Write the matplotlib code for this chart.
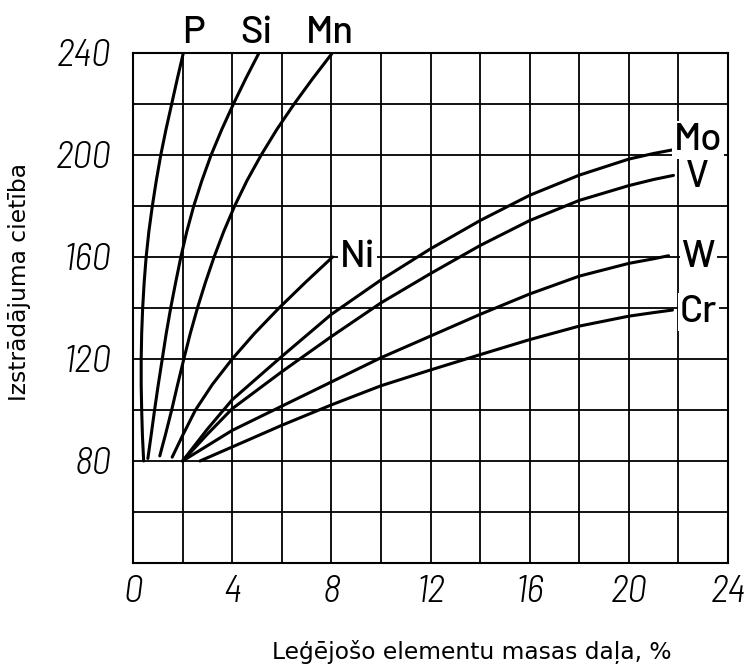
import matplotlib.pyplot as plt
import numpy as np

# cietība (HB) pret leģējošā elementa masas daļu, %
p_x = [0.43, 0.38, 0.35, 0.33, 0.33, 0.35, 0.39, 0.45, 0.53, 0.64, 0.78, 0.94, 1.12, 1.33, 1.56, 1.79, 2.03]
p_y = [80, 90, 100, 110, 120, 130, 140, 150, 160, 170, 180, 190, 200, 210, 220, 230, 240]

si_x = [0.60, 0.73, 0.87, 1.02, 1.18, 1.34, 1.52, 1.72, 1.93, 2.17, 2.45, 2.78, 3.15, 3.58, 4.05, 4.55, 5.08]
si_y = [81, 90, 100, 110, 120, 130, 140, 150, 160, 170, 180, 190, 200, 210, 220, 230, 240]

mn_x = [1.08, 1.30, 1.56, 1.80, 2.05, 2.31, 2.60, 2.92, 3.27, 3.66, 4.10, 4.60, 5.17, 5.80, 6.50, 7.25, 8.04]
mn_y = [82, 90, 100, 110, 120, 130, 140, 150, 160, 170, 180, 190, 200, 210, 220, 230, 240]

ni_x = [1.58, 2.00, 2.52, 3.20, 4.00, 4.90, 5.89, 6.95, 8.05]
ni_y = [81.5, 90, 100, 110, 120, 130, 140, 150, 160]

mo_x = [2, 3, 4, 6, 8, 10, 12, 14, 16, 18, 20, 21, 21.76]
mo_y = [80, 92.5, 104, 121, 137.5, 151, 163.2, 174.3, 184.2, 192.1, 198.4, 200.6, 202]

v_x = [2, 3, 4, 6, 8, 10, 12, 14, 16, 18, 20, 21, 21.8]
v_y = [80, 90.5, 100.5, 115, 128.8, 142, 153.5, 164.5, 174.3, 182.2, 188.0, 190.4, 192]

w_x = [2, 4, 6, 8, 10, 12, 14, 16, 18, 20, 21, 21.6]
w_y = [80, 92, 101.5, 111, 120.5, 129, 137.5, 145.5, 152.5, 157.5, 159.3, 160.5]

cr_x = [2.7, 4, 6, 8, 10, 12, 14, 16, 18, 20, 21, 21.76]
cr_y = [80, 85.5, 94, 102, 109.5, 115.7, 121.7, 127.6, 132.9, 136.8, 138.2, 139.2]

x_ticks = [0, 4, 8, 12, 16, 20, 24]
y_ticks = [80, 120, 160, 200, 240]

tick_fam = ['Barlow Semi Condensed', 'Barlow Condensed', 'DejaVu Sans']
lab_fam = ['Barlow', 'Barlow Semi Condensed', 'DejaVu Sans']

fig = plt.figure(figsize=(7.5, 6.64), dpi=100)
ax = fig.add_axes([133 / 750, 1 - 563 / 664, 595 / 750, 510 / 664])

for xs, ys in [(p_x, p_y), (si_x, si_y), (mn_x, mn_y), (ni_x, ni_y),
               (mo_x, mo_y), (v_x, v_y), (w_x, w_y), (cr_x, cr_y)]:
    ax.plot(xs, ys, color='black', lw=2.2, solid_capstyle='round',
            solid_joinstyle='round', zorder=3)

ax.set_xlim(0, 24)
ax.set_ylim(40, 240)
ax.set_xticks(x_ticks)
ax.set_xticks(np.arange(0, 25, 2), minor=True)
ax.set_yticks(y_ticks)
ax.set_yticks(np.arange(40, 241, 20), minor=True)
ax.grid(True, which='both', color='black', lw=1.3)
ax.set_axisbelow(True)
ax.tick_params(which='both', length=0)
ax.tick_params(axis='x', pad=9)
ax.tick_params(axis='y', pad=16)
for sp in ax.spines.values():
    sp.set_linewidth(1.5)

tick_font = dict(family=tick_fam, style='italic', weight=300, size=28)
ax.set_xticklabels([str(t) for t in x_ticks], **tick_font)
ax.set_yticklabels([str(t) for t in y_ticks], **tick_font)

lab = dict(ha='center', va='baseline', fontsize=27.5, fontweight=500,
           family=lab_fam, clip_on=False, zorder=5)
box = dict(facecolor='white', edgecolor='none', pad=1.5)
ax.text(2.42, 243.8, 'P', **lab)
ax.text(4.96, 243.8, 'Si', **lab)
ax.text(7.96, 243.8, 'Mn', **lab)
ax.text(9.05, 156.1, 'Ni', bbox=box, **lab)
ax.text(22.8, 202, 'Mo', bbox=box, **lab)
ax.text(22.76, 187.5, 'V', bbox=box, **lab)
ax.text(22.8, 156.1, 'W', bbox=box, **lab)
ax.text(22.8, 134.5, 'Cr', bbox=box, **lab)

fig.text(20 / 750, 1 - 282 / 664, 'Izstrādājuma cietība', rotation=90,
         ha='center', va='center', fontsize=16.8, family='DejaVu Sans')
fig.text(472 / 750, 1 - 659 / 664, 'Leģējošo elementu masas daļa, %',
         ha='center', va='baseline', fontsize=16.8, family='DejaVu Sans')

fig.savefig('out.png', dpi=100)
